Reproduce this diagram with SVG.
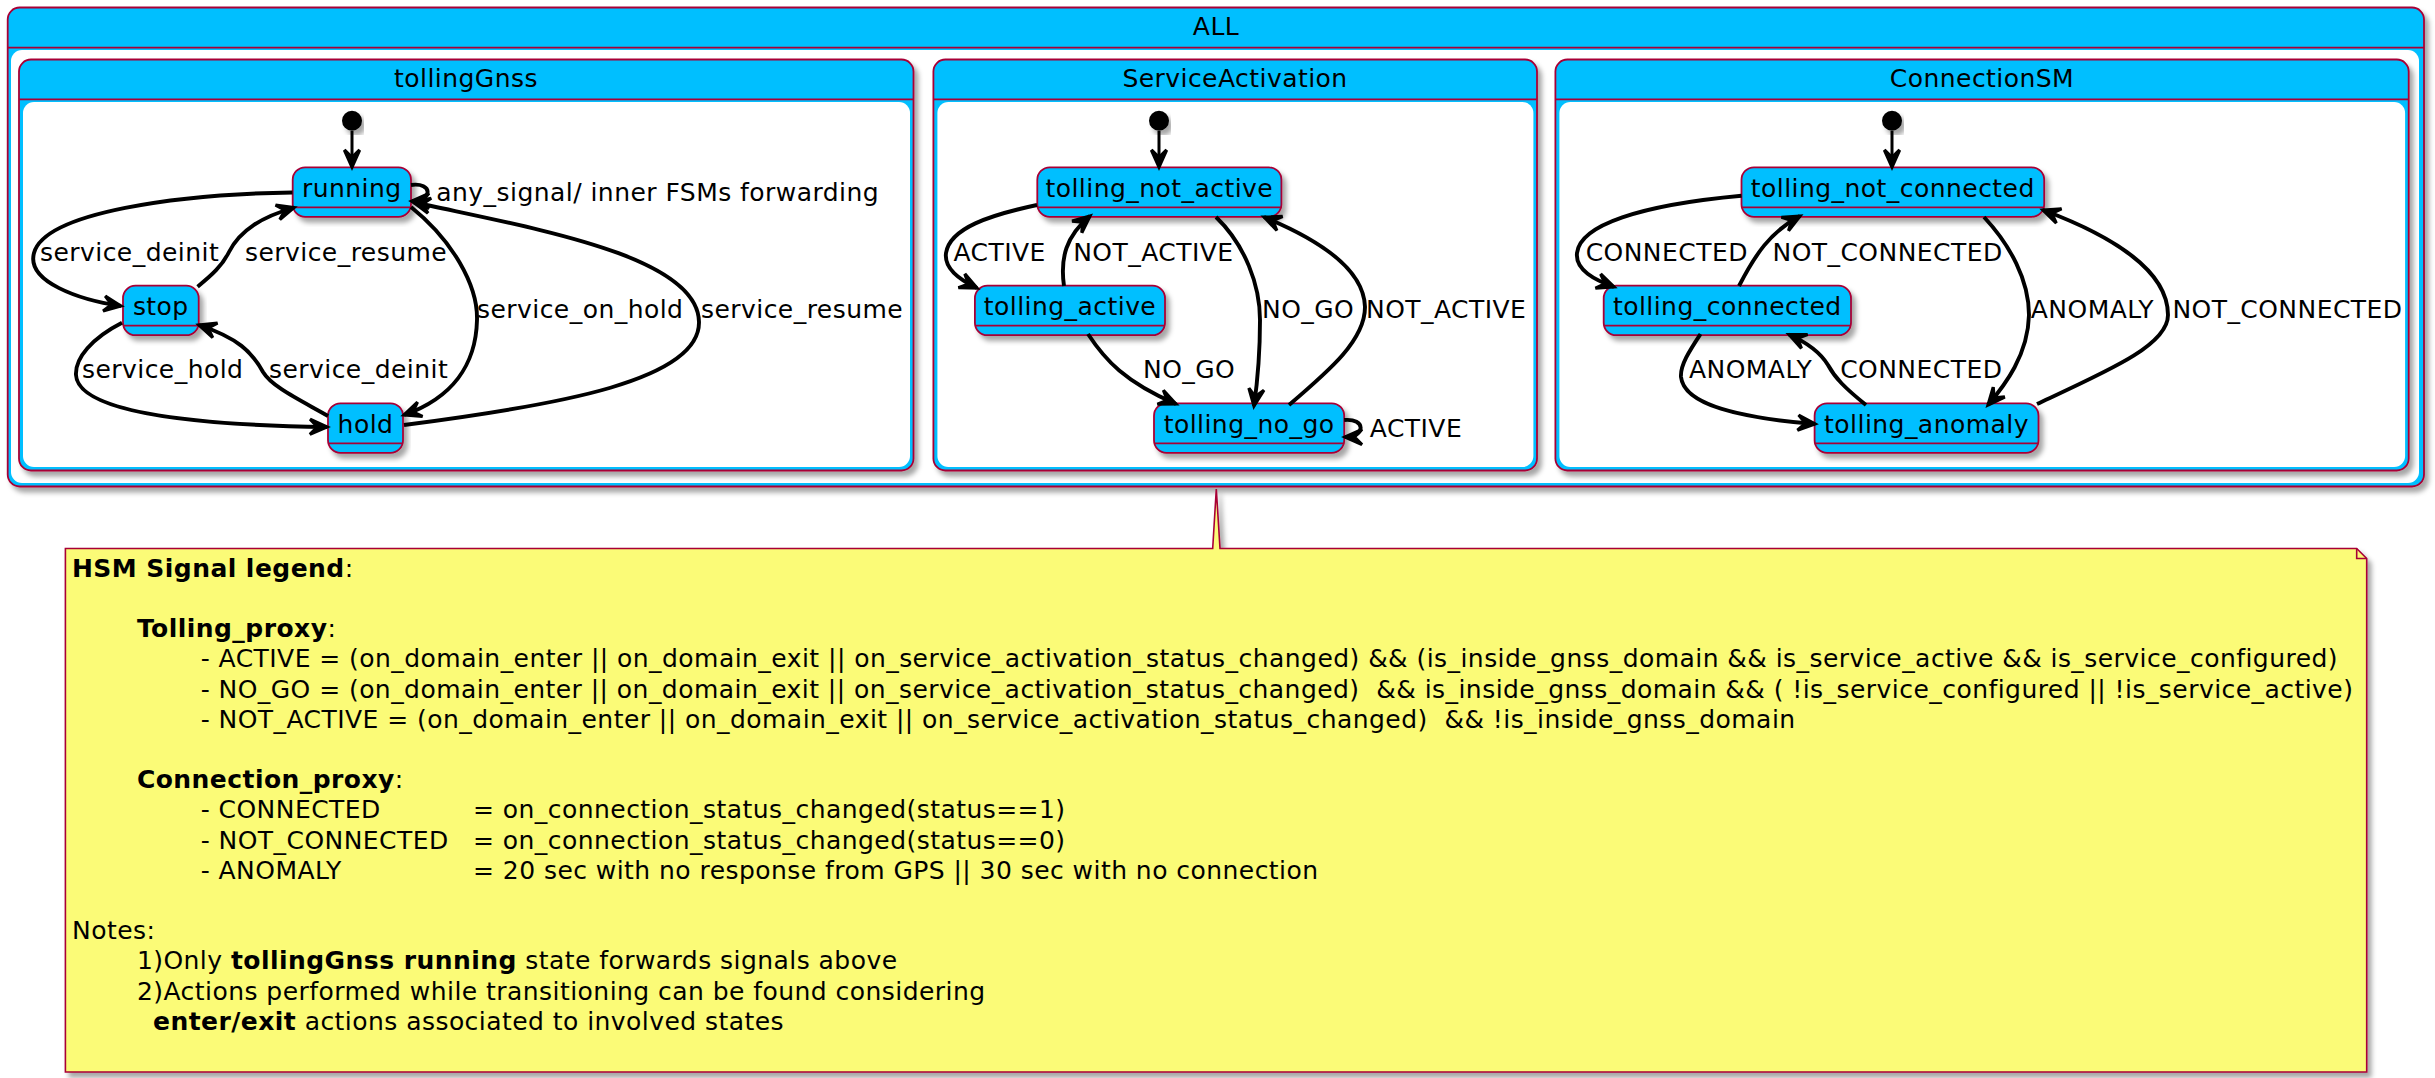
<svg xmlns="http://www.w3.org/2000/svg" width="2435" height="1078" viewBox="0 0 2435 1078">
<defs>
<style>
text{font-family:"DejaVu Sans","Liberation Sans",sans-serif;font-size:25px;letter-spacing:0.45px;fill:#000;white-space:pre}
.t{text-anchor:middle}
.b{font-weight:bold}
.cont{fill:#00BFFF;stroke:#A80036;stroke-width:1.8}
.inner{fill:#FFFFFF;stroke:none}
.hl{stroke:#A80036;stroke-width:1.8}
.st{fill:#00BFFF;stroke:#A80036;stroke-width:1.8}
.e{fill:none;stroke:#000;stroke-width:3.9;marker-end:url(#ah)}
.ei{fill:none;stroke:#000;stroke-width:3;marker-end:url(#ah)}
.dot{fill:#000}
</style>
<filter id="sh" x="-5%" y="-5%" width="115%" height="125%">
<feDropShadow dx="4" dy="5" stdDeviation="2.5" flood-color="#000" flood-opacity="0.35"/>
</filter>
<marker id="ah" markerUnits="userSpaceOnUse" markerWidth="40" markerHeight="40" refX="0" refY="0" orient="auto" overflow="visible" viewBox="-30 -20 40 40">
<path d="M0,0 L-17,-7.6 L-9.5,0 L-17,7.6 Z" fill="#000" stroke="#000" stroke-width="3.2" stroke-linejoin="miter"/>
</marker>
</defs>
<rect width="2435" height="1078" fill="#FFFFFF"/>

<g id="ALL">
<rect class="cont" x="7.7" y="7.5" width="2416.3" height="479" rx="12" filter="url(#sh)"/>
<rect class="inner" x="11" y="50" width="2408" height="433" rx="11"/>
<line class="hl" x1="7.7" y1="47.7" x2="2424" y2="47.7"/>
<text class="t" x="1216" y="35">ALL</text>
</g>

<g id="tollingGnss">
<rect class="cont" x="19" y="59.5" width="894.5" height="411" rx="12" filter="url(#sh)"/>
<rect class="inner" x="23" y="102" width="887" height="365" rx="11"/>
<line class="hl" x1="19" y1="99.3" x2="913.5" y2="99.3"/>
<text class="t" x="466" y="87">tollingGnss</text>
</g>

<g id="ServiceActivation">
<rect class="cont" x="933.4" y="59.5" width="603.6" height="411" rx="12" filter="url(#sh)"/>
<rect class="inner" x="937.4" y="102" width="596" height="365" rx="11"/>
<line class="hl" x1="933.4" y1="99.3" x2="1537" y2="99.3"/>
<text class="t" x="1235" y="87">ServiceActivation</text>
</g>

<g id="ConnectionSM">
<rect class="cont" x="1555.4" y="59.5" width="853.3" height="411" rx="12" filter="url(#sh)"/>
<rect class="inner" x="1559.4" y="102" width="845.7" height="365" rx="11"/>
<line class="hl" x1="1555.4" y1="99.3" x2="2408.7" y2="99.3"/>
<text class="t" x="1982" y="87">ConnectionSM</text>
</g>

<g id="init_tollingGnss"><circle class="dot" cx="352" cy="120.7" r="10" filter="url(#sh)"/></g>
<g id="init_ServiceActivation"><circle class="dot" cx="1159" cy="120.7" r="10" filter="url(#sh)"/></g>
<g id="init_ConnectionSM"><circle class="dot" cx="1892" cy="120.7" r="10" filter="url(#sh)"/></g>

<g id="running">
<rect class="st" x="292.7" y="167.3" width="118.3" height="49.5" rx="12.5" filter="url(#sh)"/>
<line class="hl" x1="292.7" y1="207.3" x2="411" y2="207.3"/>
<text class="t" x="351.8" y="196.7">running</text>
</g>
<g id="stop">
<rect class="st" x="123" y="285.7" width="75.7" height="49.5" rx="12.5" filter="url(#sh)"/>
<line class="hl" x1="123" y1="325.7" x2="198.7" y2="325.7"/>
<text class="t" x="160.8" y="315.1">stop</text>
</g>
<g id="hold">
<rect class="st" x="328" y="403.3" width="75" height="49.5" rx="12.5" filter="url(#sh)"/>
<line class="hl" x1="328" y1="443.3" x2="403" y2="443.3"/>
<text class="t" x="365.5" y="432.7">hold</text>
</g>

<g id="tolling_not_active">
<rect class="st" x="1037.3" y="167.3" width="244.1" height="49.5" rx="12.5" filter="url(#sh)"/>
<line class="hl" x1="1037.3" y1="207.3" x2="1281.4" y2="207.3"/>
<text class="t" x="1159.3" y="196.7">tolling_not_active</text>
</g>
<g id="tolling_active">
<rect class="st" x="974.9" y="285.7" width="190.1" height="49.5" rx="12.5" filter="url(#sh)"/>
<line class="hl" x1="974.9" y1="325.7" x2="1165" y2="325.7"/>
<text class="t" x="1070" y="315.1">tolling_active</text>
</g>
<g id="tolling_no_go">
<rect class="st" x="1154" y="403.3" width="190.2" height="49.5" rx="12.5" filter="url(#sh)"/>
<line class="hl" x1="1154" y1="443.3" x2="1344.2" y2="443.3"/>
<text class="t" x="1249.1" y="432.7">tolling_no_go</text>
</g>

<g id="tolling_not_connected">
<rect class="st" x="1741.5" y="167.3" width="302.7" height="49.5" rx="12.5" filter="url(#sh)"/>
<line class="hl" x1="1741.5" y1="207.3" x2="2044.2" y2="207.3"/>
<text class="t" x="1892.8" y="196.7">tolling_not_connected</text>
</g>
<g id="tolling_connected">
<rect class="st" x="1603.7" y="285.7" width="247.3" height="49.5" rx="12.5" filter="url(#sh)"/>
<line class="hl" x1="1603.7" y1="325.7" x2="1851" y2="325.7"/>
<text class="t" x="1727.3" y="315.1">tolling_connected</text>
</g>
<g id="tolling_anomaly">
<rect class="st" x="1814.6" y="403.3" width="223.9" height="49.5" rx="12.5" filter="url(#sh)"/>
<line class="hl" x1="1814.6" y1="443.3" x2="2038.5" y2="443.3"/>
<text class="t" x="1926.5" y="432.7">tolling_anomaly</text>
</g>

<g id="connectors">
<path class="ei" d="M352,131 L352,167"/>
<path class="e" d="M292.5,192.5 C180,194 45,212 34,253 C26,282 80,300 121,306"/>
<text x="40" y="260.7">service_deinit</text>
<path class="e" d="M197.6,286.7 C212,275 222,266 229,252 C240,230 262,217 294,207.5"/>
<text x="245" y="260.7">service_resume</text>
<path class="e" d="M411,185 C433,182 433,201 412,201"/>
<text x="436.3" y="201">any_signal/ inner FSMs forwarding</text>
<path class="e" d="M411,207 C452,240 478,285 477,320 C476,365 452,398 404,415"/>
<text x="477" y="318.3">service_on_hold</text>
<path class="e" d="M404,425 C560,405 700,380 699,322 C698,255 530,228 413,202"/>
<text x="701" y="318.3">service_resume</text>
<path class="e" d="M122,322.7 C92,338 75,358 76,375 C78,410 180,425 327,427"/>
<text x="82" y="378.3">service_hold</text>
<path class="e" d="M328,416 C300,400 272,387 263,372 C252,352 238,338 199,325"/>
<text x="269" y="378.3">service_deinit</text>

<path class="ei" d="M1159,131 L1159,167"/>
<path class="e" d="M1037,205 C990,215 950,228 946,253 C944,268 960,280 977,288"/>
<text x="953.5" y="260.7">ACTIVE</text>
<path class="e" d="M1064,286 C1060,258 1066,236 1090,216"/>
<text x="1073.2" y="260.7">NOT_ACTIVE</text>
<path class="e" d="M1088,334 C1105,360 1125,382 1176,404"/>
<text x="1143" y="378.3">NO_GO</text>
<path class="e" d="M1216,217 C1245,245 1260,285 1260,320 C1260,355 1257,385 1254,406"/>
<text x="1262" y="318.3">NO_GO</text>
<path class="e" d="M1289,405 C1330,370 1365,340 1365,307 C1364,270 1320,240 1264,217"/>
<text x="1366" y="318.3">NOT_ACTIVE</text>
<path class="e" d="M1344.2,420 C1366,418 1366,437 1345,437"/>
<text x="1369.8" y="436.7">ACTIVE</text>

<path class="ei" d="M1892,131 L1892,167"/>
<path class="e" d="M1741.5,195.7 C1640,205 1580,225 1577,253 C1575,270 1595,280 1614,287"/>
<text x="1585.7" y="260.7">CONNECTED</text>
<path class="e" d="M1739,286 C1755,255 1770,232 1800,216"/>
<text x="1772.5" y="260.7">NOT_CONNECTED</text>
<path class="e" d="M1984,217 C2010,245 2029,280 2029,315 C2028,355 2005,385 1988,405"/>
<text x="2030.8" y="318.3">ANOMALY</text>
<path class="e" d="M2037,404 C2110,370 2168,345 2168,315 C2168,270 2110,235 2043,210"/>
<text x="2172.4" y="318.3">NOT_CONNECTED</text>
<path class="e" d="M1700.5,334 C1690,350 1680,365 1681,377 C1684,405 1740,418 1815,424"/>
<text x="1689" y="378.3">ANOMALY</text>
<path class="e" d="M1866,405 C1845,388 1835,378 1828,365 C1820,352 1808,343 1789,334.5"/>
<text x="1840.2" y="378.3">CONNECTED</text>
</g>

<g id="legend">
<path d="M65.4,548.5 L1212.7,548.5 L1216.3,489 L1220,548.5 L2356.7,548.5 L2366.7,558.5 L2366.7,1072 L65.4,1072 Z" fill="#FBFB77" stroke="#A80036" stroke-width="1.6" filter="url(#sh)"/>
<path d="M2356.7,548.5 L2356.7,558.5 L2366.7,558.5" fill="none" stroke="#A80036" stroke-width="1.6"/>
<text x="72" y="576.7"><tspan class="b">HSM Signal legend</tspan>:</text>
<text x="136.9" y="637.1"><tspan class="b">Tolling_proxy</tspan>:</text>
<text x="200.7" y="667.3">- ACTIVE = (on_domain_enter || on_domain_exit || on_service_activation_status_changed) &amp;&amp; (is_inside_gnss_domain &amp;&amp; is_service_active &amp;&amp; is_service_configured)</text>
<text x="200.7" y="697.5">- NO_GO = (on_domain_enter || on_domain_exit || on_service_activation_status_changed)  &amp;&amp; is_inside_gnss_domain &amp;&amp; ( !is_service_configured || !is_service_active)</text>
<text x="200.7" y="727.7">- NOT_ACTIVE = (on_domain_enter || on_domain_exit || on_service_activation_status_changed)  &amp;&amp; !is_inside_gnss_domain</text>
<text x="136.9" y="788.1"><tspan class="b">Connection_proxy</tspan>:</text>
<text x="200.7" y="818.3">- CONNECTED</text>
<text x="473" y="818.3">= on_connection_status_changed(status==1)</text>
<text x="200.7" y="848.5">- NOT_CONNECTED</text>
<text x="473" y="848.5">= on_connection_status_changed(status==0)</text>
<text x="200.7" y="878.7">- ANOMALY</text>
<text x="473" y="878.7">= 20 sec with no response from GPS || 30 sec with no connection</text>
<text x="72" y="939.1">Notes:</text>
<text x="136.9" y="969.3">1)Only <tspan class="b">tollingGnss running</tspan> state forwards signals above</text>
<text x="136.9" y="999.5">2)Actions performed while transitioning can be found considering</text>
<text x="153" y="1029.7"><tspan class="b">enter/exit</tspan> actions associated to involved states</text>
</g>
</svg>
